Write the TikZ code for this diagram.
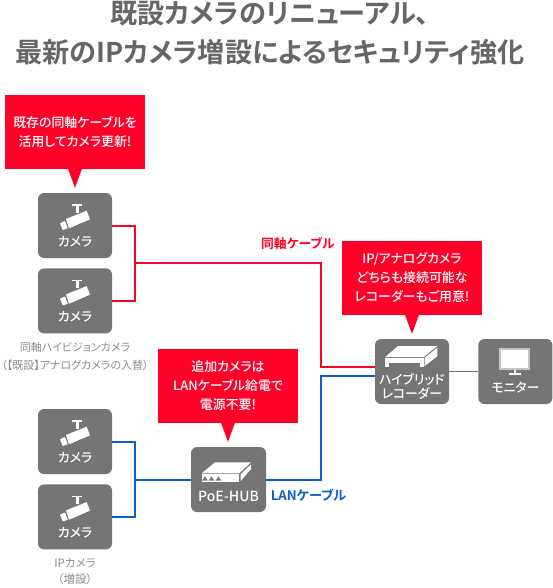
\documentclass[tikz,border=0pt]{standalone}
\usepackage{fontspec}
\usepackage{xcolor}
\usepackage{tikz}
\usetikzlibrary{positioning, calc}
\setmainfont[RawFeature=+palt, BoldFont={Noto Sans CJK JP Medium}]{Noto Sans CJK JP}
\newfontfamily\heavyfont[RawFeature=+palt]{Noto Sans CJK JP Bold}
\definecolor{unitGray}   {HTML}{757575}
\definecolor{titleGray}  {HTML}{666666}
\definecolor{noteGray}   {HTML}{8C8C8C}
\definecolor{frameGray}  {HTML}{C4C4C4}
\definecolor{noteRed}    {HTML}{FF0028}
\definecolor{lanBlue}    {HTML}{0A5FC8}
\begin{document}
\begin{tikzpicture}[
    x=1pt, y=-1pt,
    node distance=24pt and 29pt,
    unit/.style={fill=unitGray, rounded corners=6pt, inner sep=0pt,
                 minimum width=74pt, minimum height=65pt},
    unitlab/.style={text=white, font=\fontsize{12.8}{14}\selectfont\bfseries, align=center, inner sep=0pt},
    callout/.style={fill=noteRed, text=white, inner sep=0pt, minimum width=140pt, minimum height=74pt,
                    font=\fontsize{12.9}{19}\selectfont\bfseries, align=center},
    tip/.style={fill=noteRed},
    capt/.style={text=noteGray, font=\fontsize{11}{18}\selectfont, align=center, inner sep=0pt},
    coax/.style={draw=noteRed, line width=2pt},
    lan/.style={draw=lanBlue, line width=2pt},
    camicon/.pic={
      \fill[white] (-2.7,-21.2) rectangle (6.7,-19.8);
      \fill[white] (0.7,-20) rectangle (3.7,-12.5);
      \fill[white] (-9,-6.5) -- (11.7,-14.8) -- (15,-6.2) -- (-6,2.8) -- cycle;
      \fill[white] (-15,-2.2) -- (-10,-4.5) -- (-7.3,2.8) -- (-12.3,4.5) -- cycle;
    },
    recicon/.pic={
      \fill[white] (-26.7,-14.5) -- (-14,-25.5) -- (25.3,-25.5) -- (11.7,-14.5) -- cycle;
      \fill[white] (12.7,-13.8) -- (25.3,-23.8) -- (25.3,-15.2) -- (12.7,-5.5) -- cycle;
      \fill[white] (-26.7,-13.5) rectangle (11.7,-4.5);
      \fill[unitGray] (-23.3,-8.8) rectangle (7.7,-4.5);
    },
    monicon/.pic={
      \fill[frameGray] (-16,-23.8) rectangle (14.3,-1.2);
      \fill[white] (-14,-21.8) rectangle (12.3,-3.5);
      \fill[white] (-1.7,-1.2) rectangle (1,1.5);
      \fill[white] (-6.7,1.5) rectangle (5.7,3.8);
    },
    hubicon/.pic={
      \fill[white] (-26.8,-6.2) -- (-13.5,-17.2) -- (22.5,-17.2) -- (10.8,-6.2) -- cycle;
      \fill[white] (12.2,-5.2) -- (22.5,-15.2) -- (22.5,-10.5) -- (12.2,1.5) -- cycle;
      \fill[white] (-26.8,-5.2) rectangle (10.8,2.2);
      \foreach \px in {-23.5,-17,-10}
        \fill[unitGray] (\px-2.8,1.2) -- (\px,-3.2) -- (\px+2.8,1.2) -- cycle;
    },
  ]
    \useasboundingbox (0,0) rectangle (552,588);

    \node[text=titleGray, font=\fontsize{27.2}{39}\selectfont\heavyfont, align=center, inner sep=0pt] (title) at (270,33)
      {既設カメラのリニューアル、\\最新のIPカメラ増設によるセキュリティ強化};

    \node[unit] (cam1) at (75,225.5) {};
    \node[unit, below=10pt of cam1] (cam2) {};
    \node[unit] (cam3) at (75,441.5) {};
    \node[unit, below=10pt of cam3] (cam4) {};
    \node[unit] (rec) at (412,371.5) {};
    \node[unit, right=of rec] (mon) {};
    \node[unit, minimum width=75pt] (hub) at (228.5,479.5) {};

    \node[callout, above=of cam1] (note1) {既存の同軸ケーブルを\\活用してカメラ更新!};
    \node[callout, above=of rec] (note2) {IP/アナログカメラ\\どちらも接続可能な\\レコーダーもご用意!};
    \node[callout, above=of hub, xshift=-0.5pt] (note3) {追加カメラは\\LANケーブル給電で\\電源不要!};

    \fill[tip] ($(note1.south)+(-7,0)$) -- ($(cam1.north)+(0,-5)$) -- ($(note1.south)+(7,0)$) -- cycle;
    \fill[tip] ($(note2.south)+(-7,0)$) -- ($(rec.north)+(0,-5)$) -- ($(note2.south)+(7,0)$) -- cycle;
    \fill[tip] ($(note3.south)+(-7,0)$) -- ($(hub.north)+(-0.5,-5)$) -- ($(note3.south)+(7,0)$) -- cycle;

    \foreach \cam in {cam1,cam2,cam3,cam4} {
      \pic at (\cam.center) {camicon};
      \node[unitlab, above=11pt of \cam.south] (\cam lab) {カメラ};
    }
    \pic at (rec.center) {recicon};
    \pic at (mon.center) {monicon};
    \pic at (hub.center) {hubicon};
    \node[unitlab, above=5pt of rec.south] (reclab) {ハイブリッド\\レコーダー};
    \node[unitlab, above=11pt of mon.south] (monlab) {モニター};
    \node[unitlab, font=\fontsize{14}{14}\selectfont\bfseries, above=10pt of hub.south] (hublab) {PoE-HUB};

    \node[capt, below=8pt of cam2] (captcoax) {同軸ハイビジョンカメラ\\（【既設】アナログカメラの入替）};
    \node[capt, font=\fontsize{11.5}{16}\selectfont, below=9pt of cam4] (captip) {IPカメラ\\（増設）};

    \coordinate (coaxjoin) at (135,263);
    \coordinate (coaxturn) at (321,263);
    \coordinate (lanjoin) at (135,480);
    \coordinate (lanturn) at (321,480);
    \coordinate (coaxin) at (rec.west |- 0,367);
    \coordinate (lanin) at (rec.west |- 0,376);

    \draw[coax] ([yshift=-0.5pt]cam1.east) -| (coaxjoin);
    \draw[coax] ([yshift=-0.5pt]cam2.east) -| (coaxjoin);
    \draw[coax] (coaxjoin) -- (coaxturn) |- (coaxin);
    \draw[lan] ([yshift=-0.5pt]cam3.east) -| (lanjoin);
    \draw[lan] ([yshift=-0.5pt]cam4.east) -| (lanjoin);
    \draw[lan] (lanjoin) -- (lanjoin -| hub.west);
    \draw[lan] (lanturn -| hub.east) -- (lanturn) |- (lanin);
    \draw[draw=unitGray, line width=1pt] (rec) -- (mon);

    \node[text=noteRed, font=\fontsize{12.8}{14}\selectfont\heavyfont, inner sep=0pt] (coaxlab) at (298,244) {同軸ケーブル};
    \node[text=lanBlue, font=\fontsize{13.2}{14}\selectfont\heavyfont, inner sep=0pt] (lanlab) at (308.5,495) {LANケーブル};
  \end{tikzpicture}
\end{document}
